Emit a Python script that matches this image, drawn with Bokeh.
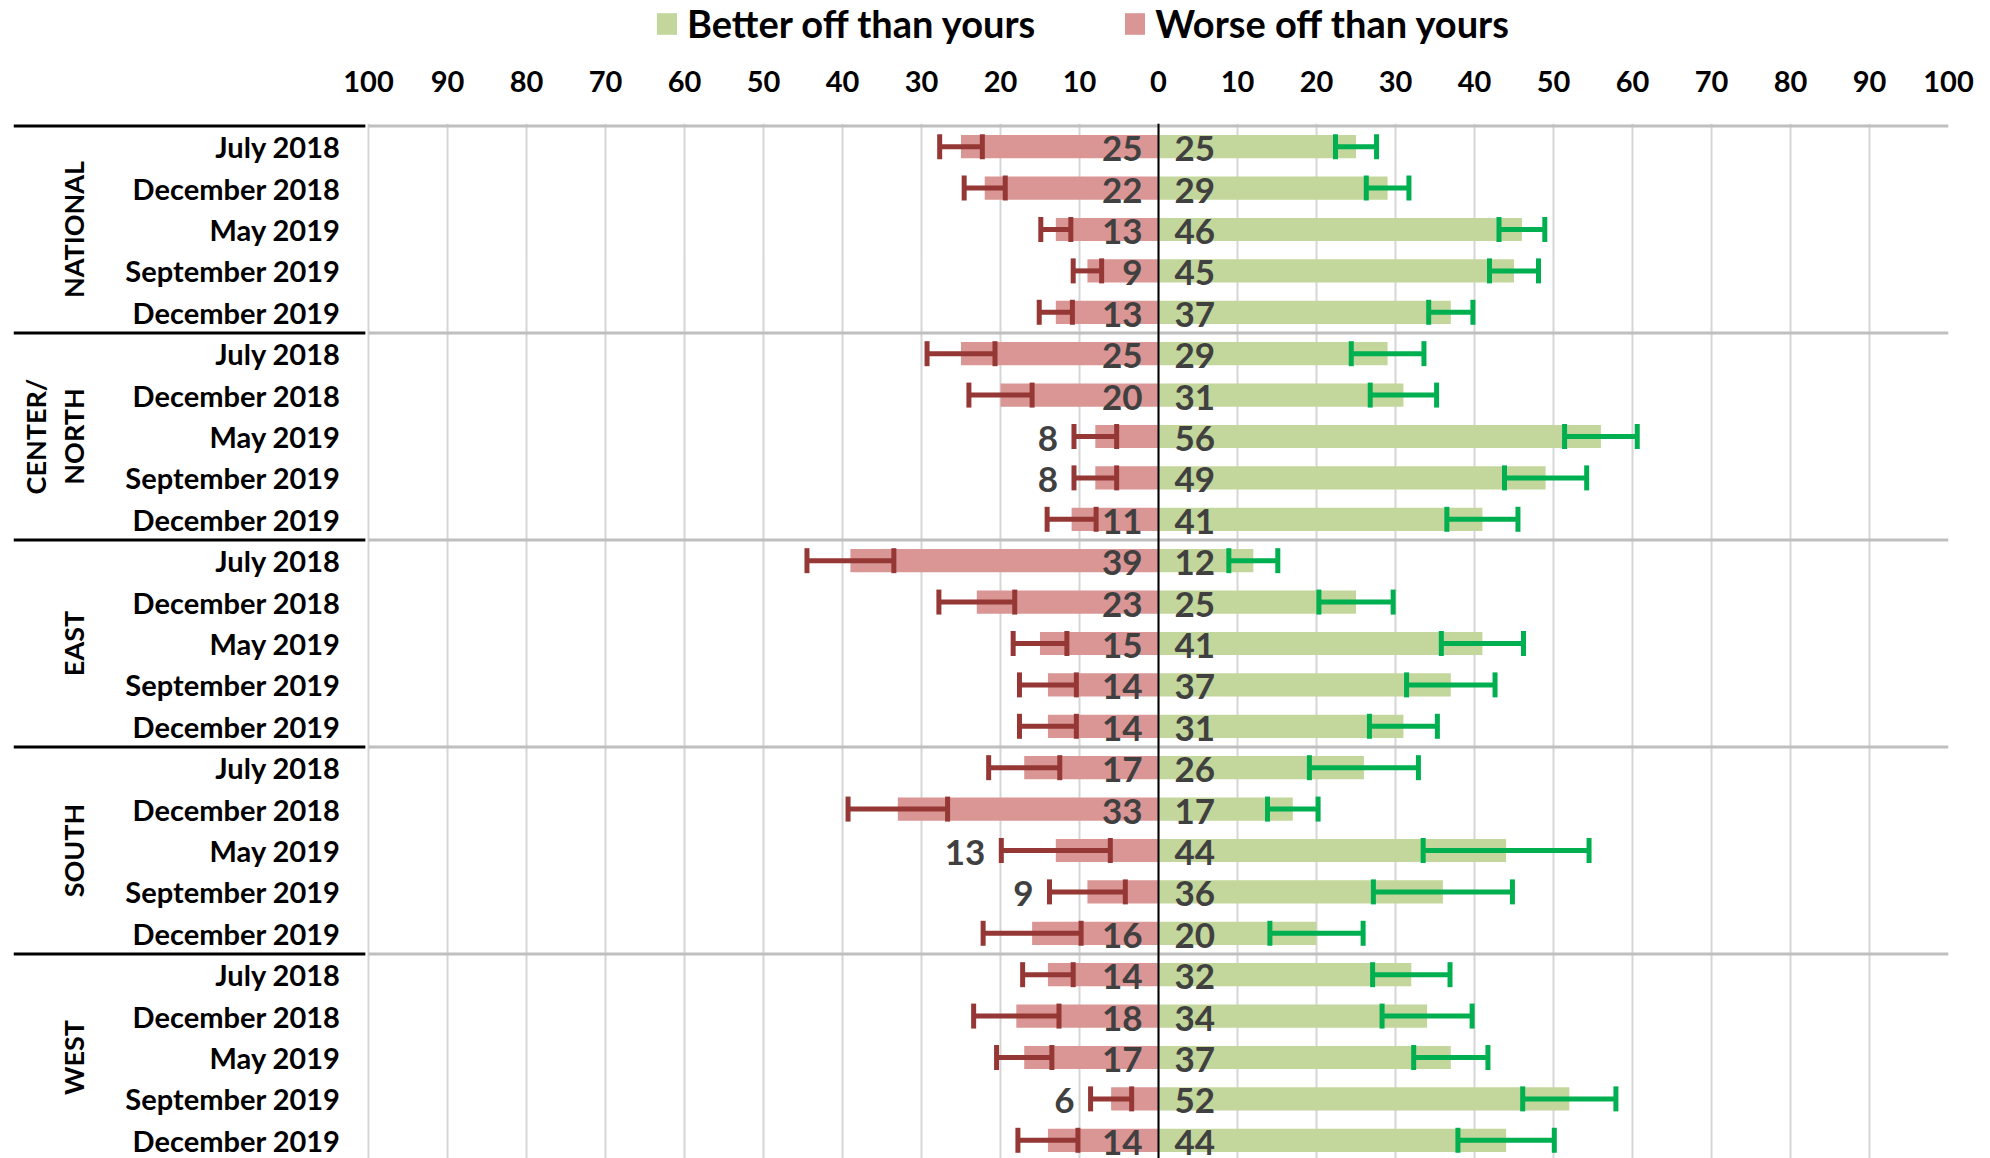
import math
from bokeh.plotting import figure
from bokeh.layouts import column
from bokeh.models import (Range1d, FixedTicker, Legend, LegendItem, Whisker,
                          TeeHead, Span, ColumnDataSource)
from bokeh.core.properties import value
from bokeh.embed import file_html
from bokeh.resources import INLINE

# ---------------- data ----------------
groups = ["NATIONAL", "CENTER/\nNORTH", "EAST", "SOUTH", "WEST"]
periods = ["July 2018", "December 2018", "May 2019", "September 2019", "December 2019"]

worse = [25, 22, 13, 9, 13,
         25, 20, 8, 8, 11,
         39, 23, 15, 14, 14,
         17, 33, 13, 9, 16,
         14, 18, 17, 6, 14]
worse_err = [2.7, 2.6, 1.9, 1.8, 2.1,
             4.3, 4.0, 2.7, 2.7, 3.1,
             5.5, 4.8, 3.4, 3.6, 3.6,
             4.5, 6.3, 6.9, 4.8, 6.2,
             3.2, 5.4, 3.5, 2.6, 3.8]
better = [25, 29, 46, 45, 37,
          29, 31, 56, 49, 41,
          12, 25, 41, 37, 31,
          26, 17, 44, 36, 20,
          32, 34, 37, 52, 44]
better_err = [2.6, 2.7, 2.9, 3.1, 2.8,
              4.6, 4.2, 4.6, 5.2, 4.5,
              3.1, 4.7, 5.2, 5.6, 4.3,
              6.9, 3.2, 10.5, 8.8, 5.9,
              4.9, 5.7, 4.7, 5.9, 6.1]
# value label of the "worse" bar drawn left of its error bar
worse_label_outside = [0, 0, 0, 0, 0,
                       0, 0, 1, 1, 0,
                       0, 0, 0, 0, 0,
                       0, 0, 1, 1, 0,
                       0, 0, 0, 1, 0]
ticks = list(range(-100, 101, 10))
legend_labels = ["Better off than yours", "Worse off than yours"]

# ---------------- styling ----------------
FONT = value("Lato")
RED_BAR, RED_ERR = "#D99694", "#953735"
GRN_BAR, GRN_ERR = "#C3D69B", "#00B050"
XMIN = -144.94
WIDTH = 1980
LEG_H = 50
MAIN_H = 1108
TOP = 73

n_per = len(periods)
n_rows = len(groups) * n_per
ys = [i + 0.5 for i in range(n_rows)]
cats = [periods[i % n_per] for i in range(n_rows)]

src = ColumnDataSource(dict(
    y=ys,
    cat=cats,
    neg_worse=[-w for w in worse],
    better=better,
    w_lo=[-(w + e) for w, e in zip(worse, worse_err)],
    w_hi=[-(w - e) for w, e in zip(worse, worse_err)],
    b_lo=[b - e for b, e in zip(better, better_err)],
    b_hi=[b + e for b, e in zip(better, better_err)],
    w_txt=[str(w) for w in worse],
    b_txt=[str(b) for b in better],
    w_lab_x=[-(w + e) if o else 0 for w, e, o in zip(worse, worse_err, worse_label_outside)],
))

p = figure(width=WIDTH, height=MAIN_H,
           x_range=Range1d(XMIN, 100), y_range=Range1d(n_rows - 0.06, -0.06),
           output_backend="svg", toolbar_location=None,
           x_axis_location="above", y_axis_location=None,
           min_border_left=13, min_border_right=WIDTH - 1948,
           min_border_top=TOP, min_border_bottom=0)
p.outline_line_color = None
p.background_fill_color = "white"
p.border_fill_color = "white"

# grid
p.xgrid.ticker = FixedTicker(ticks=ticks)
p.xgrid.grid_line_color = "#D6D6D6"
p.xgrid.grid_line_width = 2
p.ygrid.visible = False

# axis
ax = p.xaxis[0]
ax.ticker = FixedTicker(ticks=ticks)
ax.major_label_overrides = {t: str(abs(t)) for t in ticks}
ax.major_label_text_font = "Lato"
ax.major_label_text_font_style = "bold"
ax.major_label_text_font_size = "29px"
ax.major_label_text_color = "black"
ax.major_label_standoff = 26
ax.axis_line_color = None
ax.major_tick_line_color = None
ax.minor_tick_line_color = None

# group separators
seps = [g * n_per for g in range(len(groups))]
p.segment(x0=-100, x1=100, y0=seps, y1=seps, line_color="#BFBFBF", line_width=3)
p.segment(x0=XMIN, x1=-100.4, y0=seps, y1=seps, line_color="black", line_width=3)

# bars
r_worse = p.hbar(y="y", left="neg_worse", right=0, height=0.56, source=src,
                 fill_color=RED_BAR, line_color=None)
r_better = p.hbar(y="y", left=0, right="better", height=0.56, source=src,
                  fill_color=GRN_BAR, line_color=None)

# value labels
p.text(x="w_lab_x", y="y", text="w_txt", source=src, x_offset=-16, y_offset=2,
       text_align="right", text_baseline="middle", text_font=FONT,
       text_font_style="bold", text_font_size="35px", text_color="#404040")
p.text(x=0, y="y", text="b_txt", source=src, x_offset=16, y_offset=2,
       text_align="left", text_baseline="middle", text_font=FONT,
       text_font_style="bold", text_font_size="35px", text_color="#404040")

# error bars (on top of the bars)
for lo, hi, col in (("w_lo", "w_hi", RED_ERR), ("b_lo", "b_hi", GRN_ERR)):
    wk = Whisker(source=src, base="y", lower=lo, upper=hi, dimension="width",
                 level="annotation", line_color=col, line_width=5,
                 lower_head=TeeHead(size=25, line_color=col, line_width=5),
                 upper_head=TeeHead(size=25, line_color=col, line_width=5))
    p.add_layout(wk)

# zero line
p.add_layout(Span(location=0, dimension="height", line_color="black", line_width=2))

# category labels
p.text(x=-100, y="y", text="cat", source=src, x_offset=-28,
       text_align="right", text_baseline="middle", text_font=FONT,
       text_font_style="bold", text_font_size="29px", text_color="black")

# group labels (vertical)
gy = [g * n_per + n_per / 2 for g in range(len(groups))]
p.text(x=-135.2, y=gy, text=groups, angle=math.pi / 2,
       text_align="center", text_baseline="bottom", text_font=FONT,
       text_font_style="bold", text_font_size="27px", text_color="black",
       text_line_height=1.15)

# ---------------- legend strip above the chart ----------------
lg = figure(width=WIDTH, height=LEG_H, x_range=Range1d(0, 1), y_range=Range1d(0, 1),
            output_backend="svg", toolbar_location=None,
            x_axis_location=None, y_axis_location=None,
            min_border_left=13, min_border_right=WIDTH - 1948,
            min_border_top=0, min_border_bottom=0)
lg.outline_line_color = None
lg.xgrid.visible = False
lg.ygrid.visible = False
# swatch renderers (their single bar lies outside this strip's visible range)
sw_b = lg.hbar(y=[-10], left=[0], right=[1], height=1, fill_color=GRN_BAR, line_color=None)
sw_w = lg.hbar(y=[-10], left=[0], right=[1], height=1, fill_color=RED_BAR, line_color=None)
legend = Legend(items=[LegendItem(label=legend_labels[0], renderers=[sw_b]),
                       LegendItem(label=legend_labels[1], renderers=[sw_w])],
                orientation="horizontal", location=(641, 4),
                glyph_width=25, glyph_height=27, label_standoff=8, spacing=87,
                label_text_font="Lato", label_text_font_style="bold",
                label_text_font_size="38px", label_text_color="black",
                border_line_color=None, background_fill_alpha=0,
                padding=0, margin=0)
lg.add_layout(legend, "center")

layout = column(lg, p, spacing=0)
open("out.html", "w").write(file_html(layout, INLINE))
